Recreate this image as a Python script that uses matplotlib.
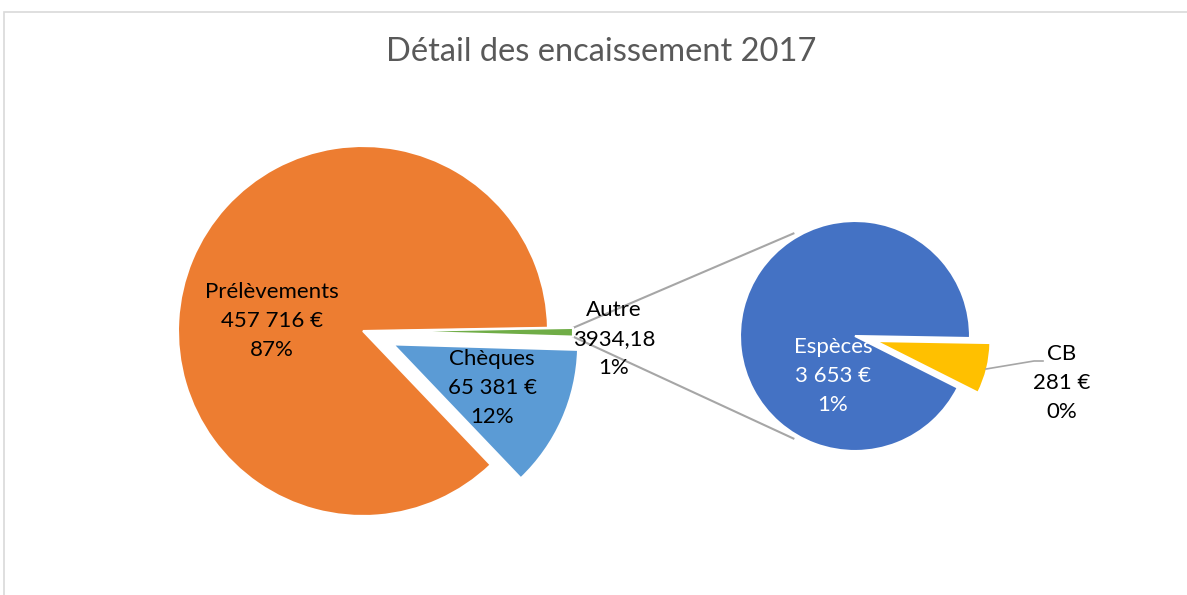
import matplotlib.pyplot as plt
from matplotlib.patches import Rectangle
import numpy as np

# main pie
main_labels = ['Prélèvements', 'Chèques', 'Autre']
main_values = [457716, 65381, 3934.18]
main_colors = ['#ED7D31', '#5B9BD5', '#70AD47']

# secondary pie (detail of "Autre")
sub_labels = ['CB', 'Espèces']
sub_values = [281, 3653]
sub_colors = ['#FFC000', '#4472C4']

title = 'Détail des encaissement 2017'

W, H = 1187, 595


def euros(v):
    return f"{v:,.0f}".replace(",", " ") + " €"


def main():
    plt.rcParams['font.family'] = ['Lato', 'DejaVu Sans']
    fig = plt.figure(figsize=(W / 100, H / 100), dpi=100)
    ax = fig.add_axes([0, 0, 1, 1])

    total = sum(main_values)
    wp = dict(edgecolor='white', linewidth=1.5)

    # main pie, centre and radius in pixels (y measured from the top)
    c1 = (363, H - 331)
    r1 = 185
    ax.pie(main_values, colors=main_colors, center=c1, radius=r1,
           startangle=1, counterclock=True, explode=[0, 33, 25],
           wedgeprops=wp)

    # secondary pie
    c2 = (855, H - 336)
    r2 = 115
    cb_deg = sub_values[0] / sum(sub_values) * 360
    ax.pie(sub_values, colors=sub_colors, center=c2, radius=r2,
           startangle=-1 - cb_deg, counterclock=True, explode=[21, 0],
           wedgeprops=wp)

    # connector lines from the "Autre" slice to the secondary pie
    autre_deg = main_values[2] / total * 360
    mid = np.radians(1 - autre_deg / 2)
    ex = (c1[0] + 25 * np.cos(mid), c1[1] + 25 * np.sin(mid))
    for a_start, a_end in [(1, 121), (1 - autre_deg, 239)]:
        p0 = (ex[0] + r1 * np.cos(np.radians(a_start)),
              ex[1] + r1 * np.sin(np.radians(a_start)))
        p1 = (c2[0] + r2 * 1.04 * np.cos(np.radians(a_end)),
              c2[1] + r2 * 1.04 * np.sin(np.radians(a_end)))
        ax.plot([p0[0], p1[0]], [p0[1], p1[1]], color='#A6A6A6', lw=1.5,
                zorder=0)

    # CB leader line
    ax.plot([986, 1034, 1043], [H - 369, H - 361, H - 361], color='#A6A6A6',
            lw=1.2)

    fs = 16
    ls = 1.55
    pct = lambda v: f"{v / total * 100:.0f}%"
    ax.text(272, H - 321, f"{main_labels[0]}\n{euros(main_values[0])}\n{pct(main_values[0])}",
            ha='center', va='center', fontsize=fs, linespacing=ls, color='black')
    ax.text(492, H - 388, f"{main_labels[1]}\n{euros(main_values[1])}\n{pct(main_values[1])}",
            ha='center', va='center', fontsize=fs, linespacing=ls, color='black')
    ax.text(614, H - 339, f"{main_labels[2]}\n{main_values[2]:.2f}".replace('.', ',') + f"\n{pct(main_values[2])}",
            ha='center', va='center', fontsize=fs, linespacing=ls, color='black')
    ax.text(833, H - 376, f"{sub_labels[1]}\n{euros(sub_values[1])}\n{pct(sub_values[1])}",
            ha='center', va='center', fontsize=fs, linespacing=ls, color='white')
    ax.text(1062, H - 383, f"{sub_labels[0]}\n{euros(sub_values[0])}\n{pct(sub_values[0])}",
            ha='center', va='center', fontsize=fs, linespacing=ls, color='black')

    ax.text(601, H - 52, title, ha='center', va='center', fontsize=23.5,
            color='#595959')

    # chart area border
    ax.add_patch(Rectangle((3.5, -50), 1300, H - 11.5 + 50, fill=False,
                           edgecolor='#D9D9D9', lw=1.2))

    ax.set_xlim(0, W)
    ax.set_ylim(0, H)
    ax.set_aspect('auto')
    ax.axis('off')
    fig.savefig('out.png', dpi=100)


if __name__ == "__main__":
    main()
